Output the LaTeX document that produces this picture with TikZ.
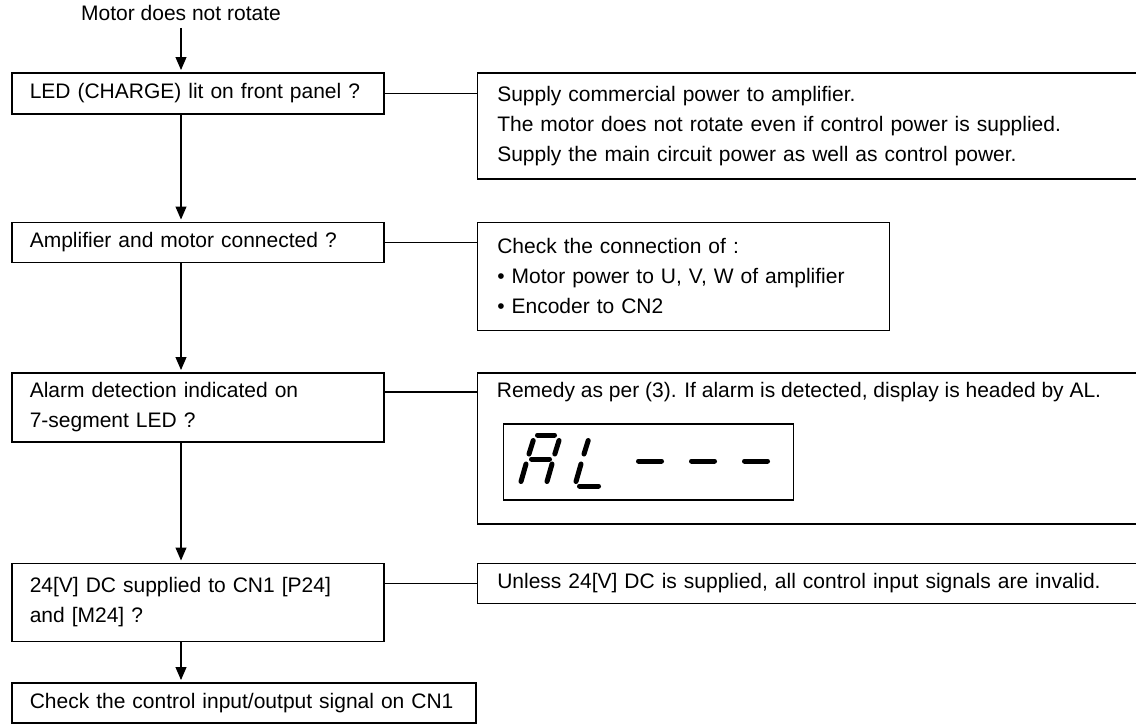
\documentclass[tikz,border=0pt]{standalone}
\usepackage{fontspec}
\setmainfont{Liberation Sans}
\usetikzlibrary{arrows.meta, positioning}

\begin{document}
\begin{tikzpicture}[
  x=0.5pt, y=-0.5pt,
  font=\fontsize{10.5}{15}\selectfont,
  >={Triangle[length=6.5pt, width=5.5pt]},
  node distance=53.5pt and 46pt,
  qbox/.style={draw, line width=0.75pt, align=left, text width=168pt,
               inner xsep=9pt, inner ysep=0pt},
  abox/.style={draw, line width=0.75pt, align=left, text width=311pt,
               inner xsep=10pt, inner ysep=0pt},
  lcd/.style={draw, line width=0.8pt, minimum width=145pt, minimum height=38pt,
              anchor=north west, inner sep=0pt},
  seg/.style={line width=2.5pt, line cap=round},
  arr/.style={->, line width=0.55pt, shorten >=1pt},
  link/.style={line width=0.55pt},
  ]
\useasboundingbox (0,0) rectangle (1136,724);

% check column
\node[qbox, anchor=north west, minimum height=20.5pt] (b1) at (11,72) {LED (CHARGE) lit on front panel ?};
\node[qbox, below=of b1, minimum height=20pt] (b2) {Amplifier and motor connected ?};
\node[qbox, below=54.5pt of b2, minimum height=34.5pt] (b3) {Alarm detection indicated on\\7-segment LED ?};
\node[qbox, below=60pt of b3, minimum height=39pt] (b4) {24[V] DC supplied to CN1 [P24]\\and [M24] ?};
\node[qbox, text width=214pt, below=20pt of b4.south west, anchor=north west, minimum height=20pt] (b5) {Check the control input/output signal on CN1};

\coordinate (ax) at (181,0);
\node (title) at (181,13) {Motor does not rotate};

% remedy column
\node[abox, right=of b1.north east, anchor=north west, minimum height=53pt] (r1) {Supply commercial power to amplifier.\\The motor does not rotate even if control power is supplied.\\Supply the main circuit power as well as control power.};
\node[abox, text width=186pt, right=of b2.north east, anchor=north west, minimum height=54pt] (r2) {Check the connection of :\\\textbullet\ Motor power to U, V, W of amplifier\\\textbullet\ Encoder to CN2};
\node[abox, right=of b3.north east, anchor=north west, minimum height=75.5pt] (r3) {};
\node[anchor=west, inner xsep=10pt, inner ysep=0pt] (r3t) at ([yshift=-10pt]r3.north west) {Remedy as per (3). If alarm is detected, display is headed by AL.};
\node[lcd] (lcd) at ([xshift=13pt, yshift=-25.5pt]r3.north west) {};
\node[abox, right=of b4.north east, anchor=north west, minimum height=20pt] (r4) {Unless 24[V] DC is supplied, all control input signals are invalid.};

% AL --- on the display
\begin{scope}[shift={(lcd.north west)}]
  \draw[seg] (35,12) -- (52,12);
  \draw[seg] (30.7,17.5) -- (26.5,31);
  \draw[seg] (23.5,41) -- (18.5,58.5);
  \draw[seg] (56.5,17.5) -- (52.3,31);
  \draw[seg] (49.5,41) -- (44.5,58.5);
  \draw[seg] (29,36) -- (47,36);
  \draw[seg] (85.7,17.5) -- (81.5,31);
  \draw[seg] (78.5,41) -- (73.5,58.5);
  \draw[seg] (77,63) -- (96,63);
  \draw[seg] (136,38) -- (159,38);
  \draw[seg] (189,38) -- (212,38);
  \draw[seg] (242,38) -- (265,38);
\end{scope}

\draw[arr] (title.south -| ax) -- (b1.north -| ax);
\draw[arr] (b1.south -| ax) -- (b2.north -| ax);
\draw[arr] (b2.south -| ax) -- (b3.north -| ax);
\draw[arr] (b3.south -| ax) -- (b4.north -| ax);
\draw[arr] (b4.south -| ax) -- (b5.north -| ax);

\draw[link] (b1.east) -- (b1.east -| r1.west);
\draw[link] (b2.east) -- (b2.east -| r2.west);
\draw[link] (b3.east |- r3t.west) -- (r3t.west);
\draw[link] (b4.east |- r4.west) -- (r4.west);
\end{tikzpicture}
\end{document}
